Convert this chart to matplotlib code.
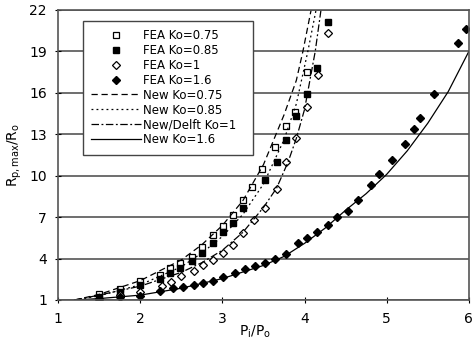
import numpy as np
import matplotlib.pyplot as plt

# FEA results
x_fea075 = [1.5, 1.75, 2.0, 2.24, 2.36, 2.48, 2.63, 2.75, 2.89, 3.01, 3.13, 3.25, 3.36, 3.48, 3.64, 3.78, 3.88, 4.03]
y_fea075 = [1.45, 1.8, 2.35, 2.8, 3.3, 3.66, 4.14, 4.86, 5.7, 6.36, 7.16, 8.25, 9.2, 10.5, 12.1, 13.6, 14.6, 17.5]

x_fea085 = [1.5, 1.75, 2.0, 2.24, 2.36, 2.48, 2.63, 2.75, 2.89, 3.01, 3.13, 3.25, 3.52, 3.66, 3.77, 3.90, 4.03, 4.15, 4.29]
y_fea085 = [1.25, 1.55, 2.05, 2.5, 2.95, 3.35, 3.8, 4.4, 5.1, 5.9, 6.56, 7.65, 9.7, 11.0, 12.6, 14.3, 15.9, 17.8, 21.1]

x_fea1 = [1.5, 1.75, 2.0, 2.26, 2.38, 2.50, 2.65, 2.77, 2.89, 3.01, 3.13, 3.25, 3.38, 3.52, 3.66, 3.78, 3.90, 4.03, 4.16, 4.28]
y_fea1 = [1.1, 1.35, 1.6, 2.01, 2.33, 2.74, 3.12, 3.54, 3.9, 4.38, 4.98, 5.83, 6.8, 7.65, 9.0, 11.0, 12.7, 15.0, 17.3, 20.3]

x_fea16 = [1.5, 1.75, 2.0, 2.24, 2.40, 2.52, 2.65, 2.77, 2.89, 3.01, 3.15, 3.27, 3.40, 3.52, 3.64,
           3.77, 3.92, 4.03, 4.15, 4.28, 4.40, 4.53, 4.65, 4.81, 4.91, 5.06, 5.22, 5.33, 5.40, 5.57, 5.87, 5.97]
y_fea16 = [1.05, 1.2, 1.3, 1.67, 1.85, 1.97, 2.09, 2.25, 2.40, 2.64, 2.93, 3.22, 3.46, 3.66, 3.95,
           4.33, 5.1, 5.47, 5.95, 6.43, 7.0, 7.47, 8.25, 9.33, 10.1, 11.1, 12.3, 13.4, 14.2, 15.9, 19.6, 20.6]

# New model curves
x_new075 = [1.2, 1.5, 2.0, 2.5, 2.75, 3.0, 3.25, 3.5, 3.75, 3.9, 3.98, 4.08]
y_new075 = [1.0, 1.4, 2.4, 3.9, 5.0, 6.4, 8.2, 10.8, 14.4, 16.9, 19.0, 22.0]

x_new085 = [1.2, 1.5, 2.0, 2.5, 2.75, 3.0, 3.25, 3.5, 3.75, 3.9, 4.04, 4.14]
y_new085 = [1.0, 1.3, 2.1, 3.4, 4.4, 5.6, 7.2, 9.4, 12.6, 15.2, 19.0, 22.0]

x_new1 = [1.2, 1.5, 2.0, 2.5, 2.75, 3.0, 3.25, 3.5, 3.66, 3.8, 3.9, 4.0, 4.13, 4.2]
y_new1 = [1.0, 1.35, 2.0, 3.0, 3.7, 4.6, 5.9, 7.7, 9.1, 11.0, 12.7, 14.8, 19.0, 22.0]

x_new16 = [1.2, 1.5, 2.0, 2.5, 3.0, 3.5, 3.75, 4.0, 4.25, 4.5, 4.75, 5.0, 5.25, 5.5, 5.75, 6.0]
y_new16 = [1.0, 1.1, 1.35, 1.85, 2.55, 3.5, 4.15, 5.1, 6.2, 7.5, 8.7, 10.1, 11.8, 13.8, 16.1, 19.0]

xticks = [1, 2, 3, 4, 5, 6]
yticks = [1, 4, 7, 10, 13, 16, 19, 22]

fig = plt.figure(figsize=(4.76, 3.44), dpi=100)
ax = fig.add_axes([0.122, 0.128, 0.863, 0.843])

ms = 4.5
ax.plot(x_fea075, y_fea075, 's', mfc='white', mec='black', mew=0.9, ms=ms, label='FEA Ko=0.75')
ax.plot(x_fea085, y_fea085, 's', color='black', ms=ms, label='FEA Ko=0.85')
ax.plot(x_fea1, y_fea1, 'D', mfc='white', mec='black', mew=0.9, ms=ms - 0.5, label='FEA Ko=1')
ax.plot(x_fea16, y_fea16, 'D', color='black', ms=ms - 0.5, label='FEA Ko=1.6')

ax.plot(x_new075, y_new075, color='black', lw=0.9, ls=(0, (5, 3)), label='New Ko=0.75')
ax.plot(x_new085, y_new085, color='black', lw=0.9, ls=(0, (1.5, 2.5)), label='New Ko=0.85')
ax.plot(x_new1, y_new1, color='black', lw=0.9, ls=(0, (6, 2, 1.5, 2)), label='New/Delft Ko=1')
ax.plot(x_new16, y_new16, color='black', lw=0.9, ls='-', label='New Ko=1.6')

ax.set_xlim(1, 6)
ax.set_ylim(1, 22)
ax.set_xticks(xticks)
ax.set_yticks(yticks)
ax.yaxis.grid(True, color='#555555', lw=1.2)
ax.set_axisbelow(True)
ax.tick_params(labelsize=10, length=4, direction='inout')
ax.tick_params(axis='x', pad=7)
ax.tick_params(axis='y', pad=6)
for s in ax.spines.values():
    s.set_color('#555555')
    s.set_linewidth(1.2)

ax.set_ylabel('R$_{\\rm p,max}$/R$_{\\rm o}$', fontsize=10, labelpad=4)
ax.set_xlabel('P$_{\\rm i}$/P$_{\\rm o}$', fontsize=10)
ax.xaxis.set_label_coords(0.48, -0.08)

leg = ax.legend(loc='upper left', bbox_to_anchor=(0.046, 0.983, 0.443, 0.0), mode='expand',
                fontsize=8.5, frameon=True, fancybox=False, edgecolor='#444444', framealpha=1,
                handlelength=4.2, handletextpad=0.2, labelspacing=0.16, borderpad=0.7)
leg.get_frame().set_linewidth(1.0)

fig.savefig('out.png', dpi=100)
